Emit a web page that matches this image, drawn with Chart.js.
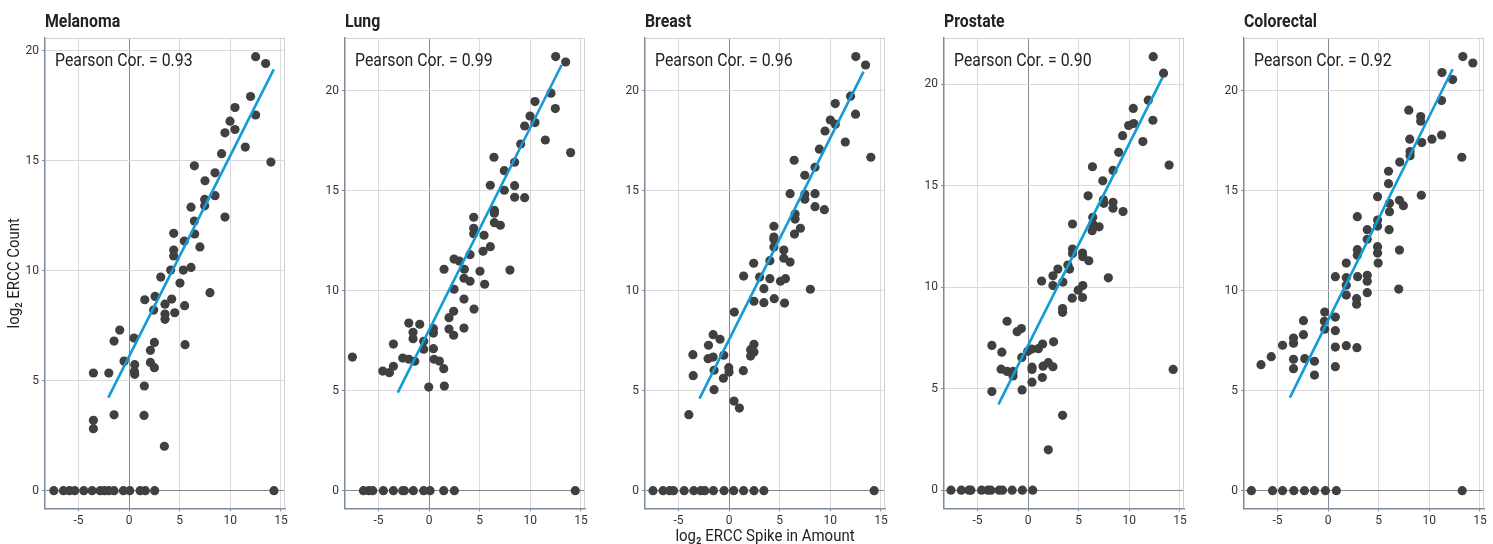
<!DOCTYPE html>
<html>
<head>
<meta charset="utf-8">
<script src="https://cdn.jsdelivr.net/npm/chart.js@4.4.1/dist/chart.umd.min.js"></script>
<style>
  html, body { margin: 0; padding: 0; background: #fff; overflow: hidden; }
  #wrap { position: relative; width: 1493px; height: 544px; }
  .panel { position: absolute; top: 0; width: 300px; height: 544px; }
</style>
</head>
<body>
<div id="wrap"></div>
<script>
// panel names and correlation labels
var cancers = ['Melanoma', 'Lung', 'Breast', 'Prostate', 'Colorectal'];
var pearson = ['0.93', '0.99', '0.96', '0.90', '0.92'];
var xTicks = [-5, 0, 5, 10, 15];
var yTicks = [0, 5, 10, 15, 20];
var xTitle = 'log\u2082 ERCC Spike in Amount';
var yTitle = 'log\u2082 ERCC Count';

// [log2 spike amount, log2 count]
var melanoma = [[12.5,19.73],[13.49,19.42],[12.0,17.92],[12.5,17.08],[10.46,17.42],[9.97,16.8],[10.46,16.42],[9.47,16.27],[11.48,15.62],[9.14,15.32],[14.01,14.94],[6.45,14.77],[8.49,14.45],[7.5,14.09],[8.49,13.41],[7.47,13.24],[7.47,12.95],[6.12,12.89],[9.47,12.44],[6.45,12.26],[6.48,11.67],[4.41,11.7],[5.46,11.35],[7.0,11.08],[4.41,10.94],[4.41,10.67],[4.11,10.03],[5.36,10.03],[6.12,10.15],
  [3.13,9.71],[5.03,9.44],[7.99,9.0],[1.55,8.68],[2.57,8.83],[4.21,8.71],[3.55,8.48],[5.49,8.41],[2.43,8.21],[4.51,8.09],[3.55,8.03],[3.55,7.79],[-0.92,7.3],[-1.48,6.8],[0.49,6.94],[2.5,6.74],[5.53,6.64],[2.11,6.38],[-0.49,5.89],[0.56,5.73],[2.11,5.83],[2.5,5.59],[0.53,5.42],[0.56,5.29],[-3.52,5.35],[-2.0,5.35],[1.51,4.76],[-3.52,3.2],[-3.52,2.82],[-1.48,3.45],[1.48,3.42],[3.49,2.02],
  [-7.43,0],[-6.48,0],[-5.89,0],[-5.36,0],[-4.47,0],[-3.65,0],[-2.86,0],[-2.43,0],[-2.0,0],[-1.48,0],[-0.56,0],[0.07,0],[1.09,0],[1.61,0],[2.53,0],[14.31,0]];
var lung = [[12.5,21.7],[13.49,21.43],[12.04,19.87],[10.46,19.45],[12.47,19.1],[9.97,18.73],[10.46,18.4],[9.44,18.23],[9.05,17.33],[11.48,17.53],[13.98,16.9],[6.41,16.67],[8.45,16.42],[7.43,16.0],[6.05,15.27],[8.45,15.25],[7.43,15.02],[8.45,14.67],[9.44,14.65],[4.41,13.67],[6.45,14.02],[6.45,13.87],[6.45,13.4],[7.04,13.27],[4.41,13.12],[4.41,12.85],[5.43,12.77],[6.05,12.2],[5.33,11.97],[4.05,11.8],[2.47,11.58],[2.99,11.48],[1.48,11.07],[3.49,11.07],[5.03,10.97],[7.99,11.03],
  [2.47,10.07],[3.45,10.62],[4.05,10.47],[5.49,10.32],[3.45,9.58],[4.44,9.08],[2.43,8.97],[1.97,8.65],[-2.0,8.38],[-0.92,8.32],[0.43,8.1],[-1.58,7.92],[1.97,8.08],[0.43,7.88],[3.45,8.13],[2.43,7.77],[-1.58,7.6],[-3.52,7.33],[-0.53,7.47],[-0.53,7.07],[0.43,7.1],[-7.57,6.68],[-2.6,6.63],[-2.0,6.57],[-1.41,6.47],[0.49,6.57],[1.02,6.48],[1.45,6.1],[-3.52,6.22],[-4.57,5.98],[-3.91,5.9],[-0.03,5.18],[1.51,5.23],
  [-6.48,0],[-5.95,0],[-5.56,0],[-4.51,0],[-3.52,0],[-2.6,0],[-2.43,0],[-1.55,0],[-0.53,0],[0.1,0],[1.45,0],[2.5,0],[14.44,0]];
var breast = [[12.52,21.7],[13.48,21.28],[12.0,19.72],[10.49,19.35],[12.49,18.82],[10.0,18.53],[10.49,18.32],[9.48,17.98],[8.92,17.07],[11.48,17.43],[14.0,16.67],[6.43,16.52],[8.49,16.17],[7.48,15.77],[6.03,14.85],[8.49,14.85],[7.48,14.82],[7.48,14.57],[8.49,14.2],[9.41,14.05],[6.52,13.83],[6.52,13.58],[7.05,13.12],[4.43,13.22],[6.46,12.83],[4.43,12.68],[4.43,12.57],[4.43,12.18],[5.41,12.03],[5.41,11.62],[6.03,11.43],[4.03,11.5],[2.43,11.37],
  [1.44,10.73],[3.02,10.68],[4.03,10.6],[5.08,10.47],[5.57,10.6],[3.44,10.1],[8.03,10.07],[2.46,9.47],[3.44,9.4],[4.46,9.6],[5.48,9.38],[0.52,8.93],[-1.57,7.8],[-0.89,7.57],[-2.03,7.27],[2.46,7.32],[2.13,7.05],[2.46,6.93],[2.13,6.73],[-3.57,6.8],[-0.52,6.77],[-1.57,6.68],[-2.07,6.6],[-0.03,6.15],[0.0,5.93],[-1.48,6.02],[1.41,6.0],[-3.54,5.75],[-0.56,5.62],[-1.48,5.05],[0.49,4.48],[1.02,4.13],[-3.97,3.8],
  [-7.51,0],[-6.52,0],[-5.87,0],[-5.48,0],[-4.43,0],[-3.48,0],[-2.79,0],[-2.39,0],[-1.54,0],[-0.49,0],[0.46,0],[1.44,0],[2.46,0],[3.44,0],[14.33,0]];
var prostate = [[12.36,21.35],[13.38,20.54],[11.87,19.21],[10.39,18.8],[12.33,18.22],[9.93,17.96],[10.43,18.06],[9.34,17.46],[11.34,17.17],[8.95,16.64],[13.93,16.01],[6.36,15.93],[8.39,15.75],[7.38,15.24],[5.93,14.5],[7.44,14.3],[7.48,14.13],[8.39,14.18],[8.39,13.89],[9.38,13.72],[6.39,13.44],[6.39,13.11],[7.02,12.97],[6.33,12.78],[4.39,13.11],[4.39,11.88],[4.39,11.66],[5.38,11.68],[5.41,11.5],[6.0,11.3],[3.93,11.09],[2.95,10.89],[4.1,10.89],
  [1.34,10.3],[2.46,10.56],[2.46,10.08],[3.44,10.25],[7.93,10.46],[5.41,10.08],[4.95,9.85],[4.36,9.46],[5.38,9.49],[3.41,8.95],[3.41,8.76],[-2.07,8.32],[-0.66,7.96],[-1.08,7.81],[-3.57,7.13],[1.44,7.2],[2.52,7.31],[-2.59,6.8],[0.36,6.95],[1.02,6.97],[-0.03,6.84],[-0.62,6.54],[-2.66,5.96],[-2.07,5.85],[-1.48,5.85],[-1.48,5.63],[0.39,6.06],[0.39,5.95],[1.48,6.11],[2.0,6.28],[2.46,6.08],[1.41,5.55],[0.39,5.32],[-0.59,4.94],[-3.57,4.86],[3.41,3.69],[2.0,1.99],[14.33,5.95],
  [-7.61,0],[-6.59,0],[-5.84,0],[-5.64,0],[-4.59,0],[-3.97,0],[-3.67,0],[-2.85,0],[-2.52,0],[-1.57,0],[-0.56,0],[0.46,0]];
var colorectal = [[13.31,21.7],[14.3,21.38],[11.25,20.9],[12.3,20.55],[11.21,19.5],[7.97,19.02],[9.15,18.7],[9.15,18.47],[10.26,17.57],[11.21,17.78],[8.07,17.57],[9.25,17.4],[8.1,16.95],[8.1,16.75],[13.21,16.67],[7.08,16.43],[5.97,15.97],[5.97,15.35],[4.89,14.7],[9.21,14.77],[7.05,14.52],[6.07,14.37],[7.44,14.25],[6.07,13.95],[2.89,13.7],[4.89,13.53],[4.89,13.23],[3.87,13.05],[6.03,13.05],[3.87,12.57],[2.89,12.05],[2.89,11.77],[4.89,12.2],[4.89,11.88],[7.05,12.03],[1.8,11.38],[4.95,11.38],
  [0.72,10.7],[1.8,10.65],[2.92,10.7],[3.87,10.77],[3.87,10.47],[1.8,10.27],[6.98,10.08],[1.8,9.78],[3.87,9.9],[2.82,9.6],[2.82,9.32],[-0.33,8.93],[-0.36,8.47],[0.72,8.68],[-2.43,8.5],[-0.33,8.07],[0.72,8.0],[-2.43,7.8],[-3.41,7.63],[-3.41,7.37],[-4.49,7.27],[0.72,7.18],[1.8,7.25],[2.85,7.15],[-5.61,6.7],[-6.62,6.3],[-3.41,6.57],[-2.3,6.6],[-1.34,6.47],[-3.41,6.1],[0.72,6.2],[-1.34,5.78],
  [-7.57,0],[-5.48,0],[-4.49,0],[-3.38,0],[-2.33,0],[-1.34,0],[-0.26,0],[0.82,0],[13.25,0]];

// fitted line end points
var melanomaFit = [[-2.05,4.23],[14.29,19.15]];
var lungFit = [[-3.09,4.9],[13.09,21.28]];
var breastFit = [[-2.92,4.6],[13.28,20.95]];
var prostateFit = [[-2.92,4.23],[13.28,20.33]];
var colorectalFit = [[-3.77,4.65],[12.3,21.07]];

var allPoints = [melanoma, lung, breast, prostate, colorectal];
var allFits = [melanomaFit, lungFit, breastFit, prostateFit, colorectalFit];
var yMax = [20.58, 22.63, 22.63, 22.27, 22.63];
var yMin = [-0.81, -0.89, -0.89, -0.9, -0.89];
var panelLeft = [45, 345, 645, 944, 1244];

var FONT = 'Roboto, "DejaVu Sans Condensed", sans-serif';
var SLATE = '#7d8b99';
var GRID = '#dadada';

var toXY = function(arr) {
  return arr.map(function(p) { return {x: p[0], y: p[1]}; });
};

// roboto squeezed a bit, to look like the condensed face of the original
var condensedText = function(c, text, x, y, font, align, baseline, rot) {
  c.save();
  c.translate(x, y);
  if (rot) c.rotate(rot);
  c.scale(0.88, 1);
  c.font = font;
  c.textAlign = align;
  c.textBaseline = baseline;
  c.fillText(text, 0, 0);
  c.restore();
};

var panelText = {
  id: 'panelText',
  beforeDatasetsDraw: function(chart) {
    var a = chart.chartArea, c = chart.ctx;
    c.save();
    c.strokeStyle = '#cdd1d5';
    c.lineWidth = 1;
    c.beginPath();
    c.moveTo(a.left, a.top + 0.5); c.lineTo(a.right, a.top + 0.5);
    c.moveTo(a.right - 0.5, a.top); c.lineTo(a.right - 0.5, a.bottom);
    c.stroke();
    c.restore();
  },
  afterDraw: function(chart, args, opts) {
    var a = chart.chartArea, c = chart.ctx;
    c.fillStyle = '#222';
    condensedText(c, opts.title, a.left, 27, 'bold 18px ' + FONT, 'left', 'alphabetic');
    condensedText(c, 'Pearson Cor. = ' + opts.r, a.left + 10, 66, '18px ' + FONT, 'left', 'alphabetic');
    if (opts.showY) {
      condensedText(c, yTitle, 15, (a.top + a.bottom) / 2, '17px ' + FONT, 'center', 'middle', -Math.PI / 2);
    }
    if (opts.showX) {
      condensedText(c, xTitle, (a.left + a.right) / 2, 541, '17px ' + FONT, 'center', 'alphabetic');
    }
  }
};

var wrap = document.getElementById('wrap');

for (var i = 0; i < cancers.length; i++) {
  var div = document.createElement('div');
  div.className = 'panel';
  div.style.left = (panelLeft[i] - 45) + 'px';
  var cv = document.createElement('canvas');
  div.appendChild(cv);
  wrap.appendChild(div);

  new Chart(cv.getContext('2d'), {
    type: 'scatter',
    data: {
      datasets: [{
        data: toXY(allFits[i]),
        showLine: true,
        borderColor: '#129bd8',
        borderWidth: 2.6,
        pointRadius: 0,
        fill: false
      }, {
        data: toXY(allPoints[i]),
        pointRadius: 4.6,
        pointBackgroundColor: '#404040',
        pointBorderWidth: 0,
        borderColor: '#404040'
      }]
    },
    options: {
      responsive: true,
      maintainAspectRatio: false,
      animation: false,
      events: [],
      layout: { padding: { top: 38, right: 15, left: 0, bottom: 0 } },
      plugins: {
        legend: { display: false },
        tooltip: { enabled: false },
        panelText: { title: cancers[i], r: pearson[i], showY: i === 0, showX: i === 2 }
      },
      scales: {
        x: {
          type: 'linear',
          min: -8.3,
          max: 15.4,
          afterBuildTicks: function(s) { s.ticks = xTicks.map(function(v) { return {value: v}; }); },
          afterFit: function(s) { s.height = 35.5; },
          grid: {
            color: function(ctx) { return ctx.tick && ctx.tick.value === 0 ? SLATE : GRID; },
            lineWidth: 1,
            tickLength: 3,
            tickColor: SLATE
          },
          border: { display: true, color: SLATE, width: 1.5 },
          ticks: { color: '#333', padding: 2, font: { family: FONT, size: 12 } }
        },
        y: {
          type: 'linear',
          min: yMin[i],
          max: yMax[i],
          afterBuildTicks: function(s) { s.ticks = yTicks.map(function(v) { return {value: v}; }); },
          afterFit: function(s) { s.width = 45; },
          grid: {
            color: function(ctx) { return ctx.tick && ctx.tick.value === 0 ? SLATE : GRID; },
            lineWidth: 1,
            tickLength: 3,
            tickColor: SLATE
          },
          border: { display: true, color: SLATE, width: 1.5 },
          ticks: { color: '#333', padding: 3, font: { family: FONT, size: 12 } }
        }
      }
    },
    plugins: [panelText]
  });
}
</script>
</body>
</html>
